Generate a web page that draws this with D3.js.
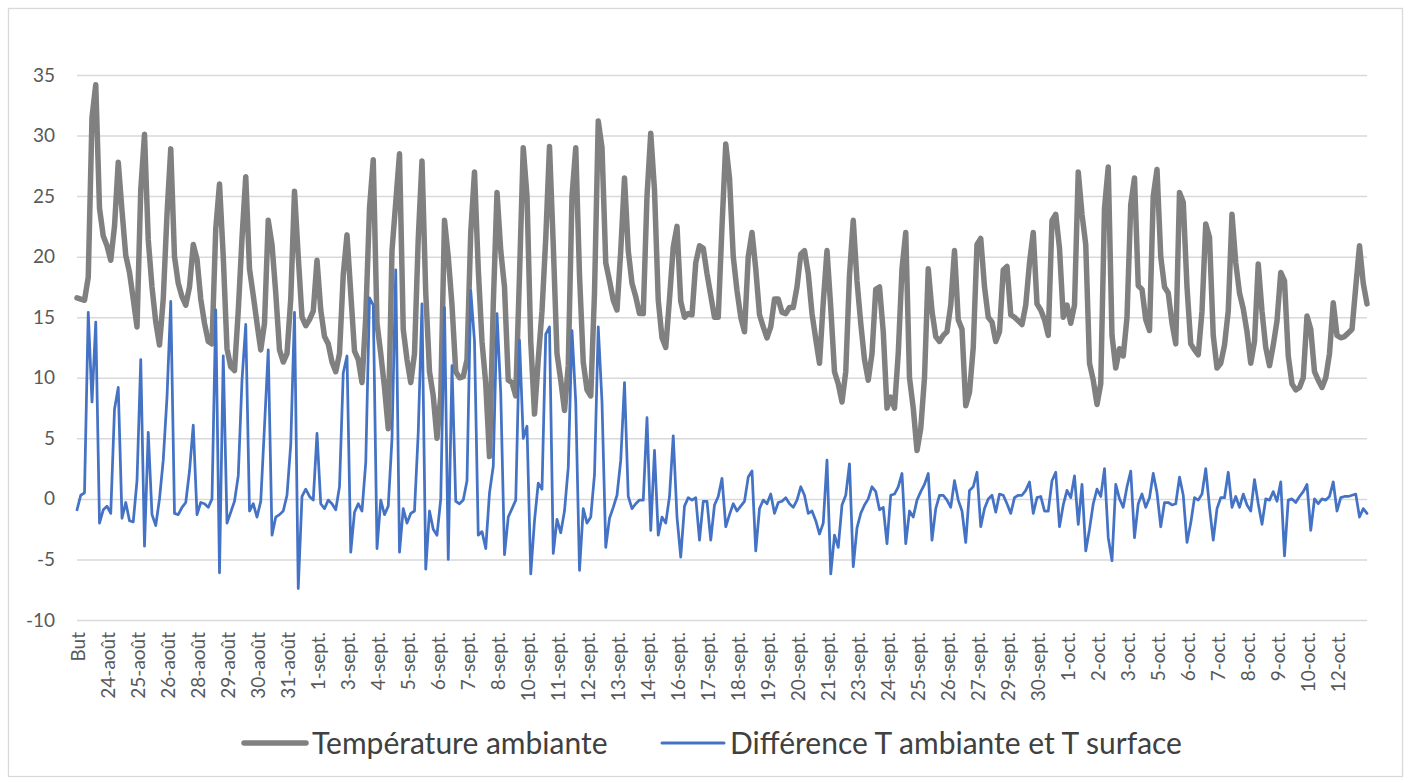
<!DOCTYPE html>
<html>
<head>
<meta charset="utf-8">
<script src="https://cdn.jsdelivr.net/npm/d3@7"></script>
<style>
  body { margin: 0; background: #fff; }
  text { font-family: Lato, "Open Sans", sans-serif; }
</style>
</head>
<body>
<script>
// category labels (one label every 8 readings)
var dateLabels = ["But", "24-août", "25-août", "26-août", "28-août", "29-août", "30-août", "31-août",
  "1-sept.", "3-sept.", "4-sept.", "5-sept.", "6-sept.", "7-sept.", "8-sept.", "10-sept.", "11-sept.",
  "12-sept.", "13-sept.", "14-sept.", "16-sept.", "17-sept.", "18-sept.", "19-sept.", "20-sept.",
  "21-sept.", "23-sept.", "24-sept.", "25-sept.", "26-sept.", "27-sept.", "29-sept.", "30-sept.",
  "1-oct.", "2-oct.", "3-oct.", "5-oct.", "6-oct.", "7-oct.", "8-oct.", "9-oct.", "10-oct.", "12-oct."];
var labelStep = 8;

var yTicks = [-10, -5, 0, 5, 10, 15, 20, 25, 30, 35];

var seriesNames = ["Température ambiante", "Différence T ambiante et T surface"];

// Température ambiante
var tempAmbiante = [
  16.6, 16.5, 16.4, 18.3, 31.5, 34.2, 24.0, 21.7,
  20.9, 19.7, 22.5, 27.8, 23.8, 20.1, 18.7, 16.5,
  14.2, 25.5, 30.1, 21.4, 17.5, 14.6, 12.7, 16.5,
  23.5, 28.9, 20.0, 17.8, 16.7, 16.0, 17.5, 21.0,
  19.8, 16.5, 14.5, 13.0, 12.8, 22.3, 26.0, 20.0,
  12.4, 10.9, 10.6, 15.5, 21.5, 26.6, 19.0, 16.8,
  14.5, 12.3, 14.5, 23.0, 21.0, 17.0, 12.3, 11.3,
  12.0, 16.5, 25.4, 20.0, 15.0, 14.3, 14.8, 15.5,
  19.7, 15.6, 13.4, 12.8, 11.3, 10.5, 12.0, 18.5,
  21.8, 17.0, 12.2, 11.5, 9.6, 15.0, 24.0, 28.0,
  14.5, 12.0, 9.2, 5.8, 20.5, 24.5, 28.5, 14.0,
  11.5, 9.6, 12.0, 21.5, 27.9, 17.0, 10.5, 8.5,
  5.0, 8.5, 23.0, 20.0, 16.0, 10.5, 10.0, 10.1,
  11.5, 22.0, 27.0, 19.0, 13.0, 9.5, 3.5, 16.0,
  25.3, 20.5, 17.5, 9.8, 9.6, 8.5, 18.5, 29.0,
  25.0, 13.0, 7.0, 11.5, 15.5, 21.5, 29.1, 21.0,
  12.0, 9.8, 7.3, 11.0, 25.0, 29.0, 18.5, 11.3,
  9.0, 8.5, 17.0, 31.2, 29.0, 19.5, 18.0, 16.4,
  15.6, 20.5, 26.5, 20.5, 17.8, 16.7, 15.3, 15.3,
  25.0, 30.2, 25.5, 16.4, 13.3, 12.5, 16.5, 20.8,
  22.5, 16.3, 15.0, 15.3, 15.2, 19.5, 20.9, 20.7,
  18.6, 16.8, 15.0, 15.0, 22.5, 29.3, 26.5, 20.0,
  17.2, 15.0, 13.8, 20.0, 22.0, 19.0, 15.2, 14.2,
  13.3, 14.2, 16.5, 16.5, 15.4, 15.3, 15.8, 15.8,
  17.5, 20.2, 20.5, 18.6, 15.3, 13.2, 11.2, 16.2,
  20.5, 15.8, 10.5, 9.5, 8.0, 10.5, 18.5, 23.0,
  18.0, 14.5, 11.5, 9.8, 12.0, 17.3, 17.5, 13.8,
  7.5, 8.4, 7.5, 12.0, 19.0, 22.0, 10.0, 7.5,
  4.0, 5.8, 10.0, 19.0, 15.5, 13.4, 13.0, 13.5,
  13.8, 16.0, 20.5, 14.8, 14.0, 7.7, 8.8, 12.5,
  21.0, 21.5, 17.5, 15.0, 14.6, 13.0, 13.8, 18.9,
  19.2, 15.2, 15.0, 14.7, 14.4, 16.0, 19.5, 22.0,
  16.1, 15.6, 14.8, 13.5, 23.0, 23.5, 20.7, 15.0,
  16.0, 14.5, 16.0, 27.0, 23.5, 21.0, 11.2, 9.8,
  7.8, 9.5, 24.0, 27.4, 13.5, 10.8, 12.4, 11.8,
  15.0, 24.3, 26.5, 17.6, 17.3, 14.8, 13.9, 25.0,
  27.2, 20.0, 17.5, 17.0, 14.5, 12.8, 25.3, 24.5,
  17.5, 12.8, 12.3, 11.9, 15.5, 22.7, 21.6, 13.5,
  10.8, 11.2, 12.7, 15.5, 23.5, 19.5, 17.0, 15.7,
  13.8, 11.2, 13.0, 19.4, 15.5, 12.5, 11.0, 12.7,
  14.7, 18.7, 18.0, 11.8, 9.5, 9.0, 9.2, 10.0,
  15.1, 14.0, 10.5, 9.8, 9.2, 10.0, 12.0, 16.2,
  13.5, 13.3, 13.4, 13.7, 14.0, 17.5, 20.9, 17.8,
  16.1
];

// Différence T ambiante et T surface
var diffTemp = [
  -0.9, 0.3, 0.5, 15.4, 8.0, 14.6, -2.0, -0.9,
  -0.6, -1.2, 7.4, 9.2, -1.6, -0.3, -1.8, -1.9,
  1.5, 11.5, -3.9, 5.5, -1.3, -2.2, 0.0, 3.2,
  8.4, 16.3, -1.2, -1.3, -0.7, -0.3, 2.3, 6.1,
  -1.3, -0.3, -0.4, -0.7, 0.0, 15.6, -6.1, 11.8,
  -2.0, -1.1, -0.2, 1.9, 9.8, 14.4, -1.0, -0.4,
  -1.5, -0.2, 6.0, 12.3, -3.0, -1.5, -1.3, -1.0,
  0.3, 4.5, 15.4, -7.4, 0.2, 0.8, 0.2, -0.1,
  5.4, -0.4, -0.8, -0.1, -0.4, -0.9, 1.0, 10.4,
  11.8, -4.4, -1.1, -0.4, -1.0, 3.0, 16.6, 16.0,
  -4.1, -0.1, -1.3, -0.6, 5.0, 18.9, -4.4, -0.8,
  -2.0, -1.2, -1.0, 5.5, 16.1, -5.8, -1.0, -2.5,
  -3.0, 0.0, 15.8, -5.0, 11.0, -0.2, -0.4, -0.1,
  1.5, 17.2, 13.0, -3.0, -2.7, -4.1, 0.5, 2.7,
  15.3, 8.7, -4.6, -1.5, -0.8, -0.1, 13.1, 5.0,
  6.0, -6.2, -1.8, 1.3, 0.8, 13.6, 14.2, -4.5,
  -1.7, -2.8, -1.0, 2.6, 13.9, 8.0, -5.9, -0.8,
  -2.0, -1.5, 2.0, 14.2, 8.0, -4.0, -1.6, -0.7,
  0.3, 3.2, 9.6, 0.2, -0.8, -0.4, -0.1, -0.1,
  6.7, -2.6, 4.0, -3.0, -1.5, -2.0, 0.2, 5.2,
  -1.5, -4.8, -0.6, 0.1, -0.1, 0.1, -3.4, -0.2,
  -0.2, -3.4, -0.5, 0.2, 1.7, -2.3, -1.3, -0.4,
  -1.0, -0.6, -0.2, 1.8, 2.3, -4.3, -0.8, -0.1,
  -0.4, 0.4, -1.2, -0.3, -0.2, 0.1, -0.4, -0.7,
  -0.1, 1.0, 0.3, -1.2, -1.0, -1.8, -2.9, -2.0,
  3.2, -6.2, -3.0, -4.0, -0.5, 0.3, 2.9, -5.6,
  -2.4, -1.2, -0.5, 0.0, 1.0, 0.6, -0.9, -0.7,
  -3.7, 0.3, 0.4, 1.0, 2.1, -3.7, -1.0, -1.5,
  -0.1, 0.6, 1.2, 2.1, -3.4, -0.8, 0.3, 0.3,
  -0.1, -0.7, 1.5, -0.1, -1.0, -3.6, 0.7, 1.0,
  2.2, -2.3, -0.8, 0.0, 0.3, -1.1, 0.4, 0.3,
  -0.4, -1.2, 0.1, 0.3, 0.3, 0.7, 1.4, -1.2,
  0.1, 0.2, -1.0, -1.0, 1.5, 2.2, -2.3, -0.5,
  0.7, 0.1, 1.9, -2.1, 1.2, -4.3, -2.5, -0.4,
  0.8, 0.2, 2.5, -3.2, -5.1, 1.2, 0.0, -0.7,
  1.0, 2.3, -3.2, -0.4, 0.4, -0.7, 0.1, 2.1,
  0.5, -2.3, -0.3, -0.3, -0.5, -0.4, 1.8, 0.3,
  -3.6, -2.0, 0.1, -0.1, 0.4, 2.5, -0.7, -3.4,
  -0.8, 0.1, 0.1, 2.2, -0.7, 0.2, -0.7, 0.4,
  -0.5, -1.0, 1.6, -0.4, -2.1, 0.0, -0.1, 0.6,
  -0.2, 1.4, -4.7, -0.1, 0.0, -0.3, 0.2, 0.6,
  1.2, -2.6, 0.0, -0.4, 0.0, -0.1, 0.2, 1.4,
  -1.0, 0.1, 0.2, 0.2, 0.3, 0.4, -1.5, -0.8,
  -1.2
];

var svgWidth = 1408;
var svgHeight = 783;
var plot = { left: 77, right: 1367, top: 75, bottom: 620 };

var svg = d3.select("body")
    .append("svg")
    .attr("width", svgWidth)
    .attr("height", svgHeight);

// chart frame
svg.append("rect")
    .attr("x", 8.5).attr("y", 8.5)
    .attr("width", 1394).attr("height", 768)
    .attr("fill", "#fff")
    .attr("stroke", "#d9d9d9")
    .attr("stroke-width", 1.3);

var xScale = d3.scaleLinear()
    .domain([0, tempAmbiante.length - 1])
    .range([plot.left, plot.right]);

var yScale = d3.scaleLinear()
    .domain([-10, 35])
    .range([plot.bottom, plot.top]);

// horizontal gridlines + y labels (plain hyphen for negatives, like Excel)
var yAxis = d3.axisLeft(yScale)
    .tickValues(yTicks)
    .tickFormat(function(d) { return String(d); })
    .tickSize(-(plot.right - plot.left))
    .tickPadding(22);

var yG = svg.append("g")
    .attr("transform", `translate(${plot.left},0)`)
    .call(yAxis);
yG.select(".domain").remove();
yG.selectAll("line").attr("stroke", "#d9d9d9").attr("stroke-width", 1.5);
yG.selectAll("text")
    .attr("fill", "#595959")
    .style("font-size", "19px");

// x labels, rotated
var labelIdx = dateLabels.map(function(d, k) { return k * labelStep; });
var xAxis = d3.axisBottom(xScale)
    .tickValues(labelIdx)
    .tickFormat(function(d) { return dateLabels[d / labelStep]; })
    .tickSize(0);

var xG = svg.append("g")
    .attr("transform", `translate(0,${plot.bottom})`)
    .call(xAxis);
xG.select(".domain").remove();
xG.selectAll("text")
    .attr("fill", "#595959")
    .style("font-size", "19px")
    .attr("text-anchor", "end")
    .attr("transform", "rotate(-90)")
    .attr("x", -12)
    .attr("y", 0)
    .attr("dy", "0.38em")
    .attr("dx", 0);

// lines
var line = d3.line()
    .x(function(d, i) { return xScale(i); })
    .y(function(d) { return yScale(d); });

svg.append("path")
    .datum(tempAmbiante)
    .attr("fill", "none")
    .attr("stroke", "#808080")
    .attr("stroke-width", 5.5)
    .attr("stroke-linejoin", "round")
    .attr("stroke-linecap", "round")
    .attr("d", line);

svg.append("path")
    .datum(diffTemp)
    .attr("fill", "none")
    .attr("stroke", "#4472c4")
    .attr("stroke-width", 2.75)
    .attr("stroke-linejoin", "round")
    .attr("stroke-linecap", "round")
    .attr("d", line);

// legend
var legend = svg.append("g").attr("class", "legend");
var legendItems = [
  { name: seriesNames[0], color: "#808080", w: 5.5, x: 244 },
  { name: seriesNames[1], color: "#4472c4", w: 3, x: 662 }
];
legendItems.forEach(function(it) {
  legend.append("line")
      .attr("x1", it.x).attr("x2", it.x + 62)
      .attr("y1", 743).attr("y2", 743)
      .attr("stroke", it.color)
      .attr("stroke-width", it.w)
      .attr("stroke-linecap", "round");
  legend.append("text")
      .attr("x", it.x + 68)
      .attr("y", 743)
      .attr("dy", "0.35em")
      .attr("fill", "#404040")
      .style("font-size", "30px")
      .text(it.name);
});
</script>
</body>
</html>
